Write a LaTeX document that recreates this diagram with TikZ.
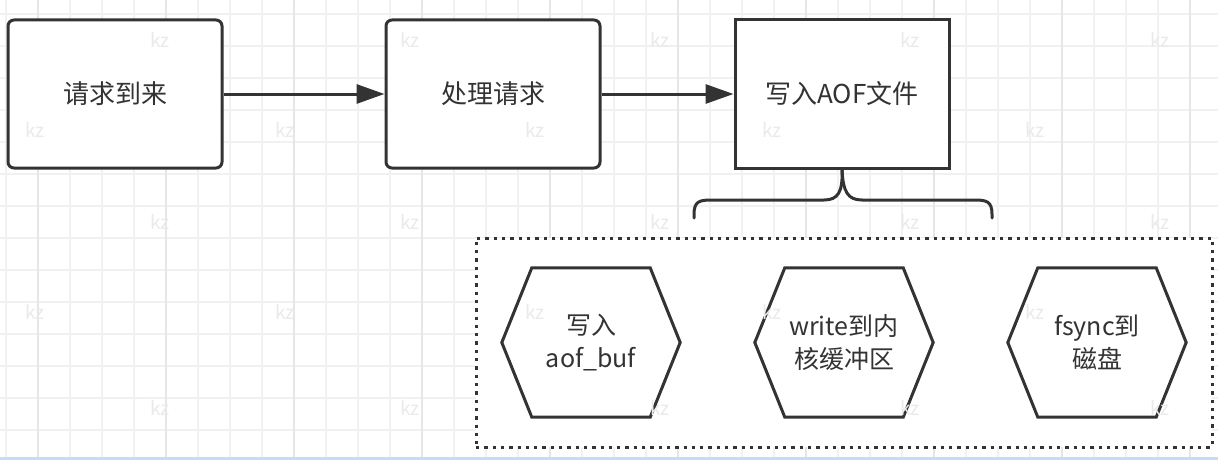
\documentclass[tikz,border=0pt]{standalone}
\usepackage{fontspec}
\setmainfont{Noto Sans CJK SC}
\usetikzlibrary{arrows.meta}
\definecolor{ink}{HTML}{333333}
\definecolor{gridminor}{HTML}{F1F1F1}
\definecolor{gridmajor}{HTML}{E6E6E6}
\definecolor{band}{HTML}{C9D9FA}
\definecolor{wmark}{HTML}{EAEAEA}
\begin{document}
\begin{tikzpicture}[x=1pt,y=-1pt,
  box/.style={draw=ink,line width=3pt,fill=white,minimum width=214pt,minimum height=148pt,inner sep=0pt,font=\fontsize{26}{32}\selectfont,text=ink},
  roundbox/.style={box,rounded corners=6pt},
  hexnode/.style={minimum width=178pt,minimum height=149pt,inner sep=0pt,align=center,font=\fontsize{25}{33}\selectfont,text=ink},
  hexline/.style={draw=ink,line width=3pt,line join=miter},
  flow/.style={draw=ink,line width=3pt,-{Triangle[length=28pt,width=19pt]}},
  bracestyle/.style={draw=ink,line width=3pt,line cap=round},
  group/.style={draw=ink,line width=3pt,dash pattern=on 3.3pt off 5pt,fill=white,minimum width=736pt,minimum height=209pt,inner sep=0pt},
  wm/.style={text=wmark,font=\fontsize{19}{19}\selectfont,inner sep=0pt}
]
\useasboundingbox (0,0) rectangle (1218,460);
\fill[white] (0,0) rectangle (1218,460);
% grid
\foreach \x in {6,38,...,1222} \draw[gridminor,line width=1.4pt] (\x,0) -- (\x,460);
\foreach \y in {14,46,...,462} \draw[gridminor,line width=1.4pt] (0,\y) -- (1218,\y);
\foreach \x in {38,166,...,1222} \draw[gridmajor,line width=1.4pt] (\x,0) -- (\x,460);
\fill[band] (0,457) rectangle (1218,460);

% top row
\node[roundbox] (b1) at (115,94) {请求到来};
\node[roundbox] (b2) at (493,94) {处理请求};
\node[box] (b3) at (842,94) {写入AOF文件};
\draw[flow] (b1.east) -- (b2.west);
\draw[flow] (b2.east) -- (b3.west);

% brace
\coordinate (bt) at (b3.south);
\coordinate (bl) at (694,218);
\coordinate (br) at (992,218);
\draw[bracestyle] (bl) -- (694,214) .. controls (694,201) and (700,200) .. (712,200) -- (824,200) .. controls (838,200) and (843,192) .. (bt);
\draw[bracestyle] (br) -- (992,214) .. controls (992,201) and (986,200) .. (974,200) -- (862,200) .. controls (848,200) and (843,192) .. (bt);

% group
\node[group] (grp) at (844,342.5) {};

% hexagons
\node[hexnode] (h1) at (591,342.5) {写入\\aof\_buf};
\node[hexnode] (h2) at (844,342.5) {write到内\\核缓冲区};
\node[hexnode] (h3) at (1097,342.5) {fsync到\\磁盘};
\foreach \h in {h1,h2,h3}
  \draw[hexline] (\h.west) -- ([xshift=30pt]\h.north west) -- ([xshift=-30pt]\h.north east) -- (\h.east) -- ([xshift=-30pt]\h.south east) -- ([xshift=30pt]\h.south west) -- cycle;

% watermarks
\foreach \x/\n in {160/a,410/b,660/c,910/d,1160/e} {
  \node[wm] (wa\n) at (\x,40) {kz};
  \node[wm] (wc\n) at (\x,222) {kz};
  \node[wm] (we\n) at (\x,408) {kz};
}
\foreach \x/\n in {35/a,285/b,535/c,772/d,1035/e} {
  \node[wm] (wb\n) at (\x,130) {kz};
  \node[wm] (wd\n) at (\x,312) {kz};
}
\end{tikzpicture}
\end{document}
